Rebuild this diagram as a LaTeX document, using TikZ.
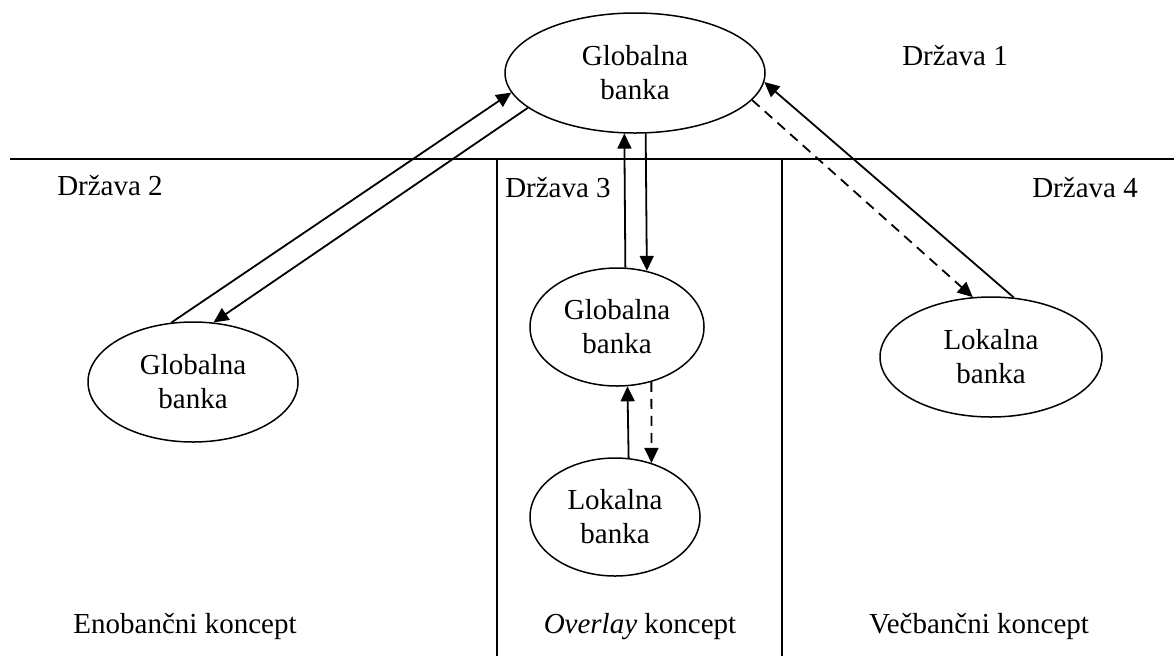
\documentclass[tikz,border=0pt]{standalone}
\usepackage{fontspec}
\setmainfont{Liberation Serif}
\usetikzlibrary{shapes.geometric,arrows.meta}
\begin{document}
\begin{tikzpicture}[x=1pt,y=-1pt,
  bank/.style={draw,ellipse,line width=1.5pt,inner sep=0pt,align=center,
    font=\fontsize{29}{34}\selectfont},
  lbl/.style={font=\fontsize{29}{34}\selectfont,inner sep=0pt,anchor=base},
  arr/.style={line width=1.8pt,-{Triangle[length=15pt,width=14pt]}},
  darr/.style={arr,dash pattern=on 10pt off 7pt},
  rule/.style={line width=1.5pt}]
\useasboundingbox (0,0) rectangle (1174,657);

% country borders
\coordinate (hl) at (10,159);
\coordinate (hr) at (1174,159);
\coordinate (v1t) at (497,159);
\coordinate (v1b) at (497,656);
\coordinate (v2t) at (782,159);
\coordinate (v2b) at (782,656);
\draw[rule] (hl) -- (hr);
\draw[rule] (v1t) -- (v1b);
\draw[rule] (v2t) -- (v2b);

% banks
\node[bank,minimum width=260pt,minimum height=120pt] (top) at (635,73) {Globalna\\banka};
\node[bank,minimum width=210pt,minimum height=120pt] (left) at (193,382) {Globalna\\banka};
\node[bank,minimum width=174pt,minimum height=118pt] (mid) at (617,327) {Globalna\\banka};
\node[bank,minimum width=170pt,minimum height=118pt] (low) at (615,517) {Lokalna\\banka};
\node[bank,minimum width=222pt,minimum height=120pt] (right) at (991,357) {Lokalna\\banka};

% country labels
\node[lbl] (d1) at (955,65) {Država 1};
\node[lbl] (d2) at (110,195) {Država 2};
\node[lbl] (d3) at (558,197) {Država 3};
\node[lbl] (d4) at (1085,197) {Država 4};

% concept labels
\node[lbl] (c1) at (185,633) {Enobančni koncept};
\node[lbl] (c2) at (640,633) {\textit{Overlay} koncept};
\node[lbl] (c3) at (979,633) {Večbančni koncept};

% single-bank concept
\draw[arr] (left.110.5) -- (top.189.6);
\draw[arr] (top.198.6) -- (left.71.7);

% overlay concept
\draw[arr] (mid.82.2) -- (top.260.5);
\draw[arr] (top.280.4) -- (mid.62.5);
\draw[arr] (low.77.4) -- (mid.280.6);
\draw[darr] (mid.302) -- (low.56);

% multi-bank concept
\draw[arr] (right.69.5) -- (top.356.7);
\draw[darr] (top.347.4) -- (right.107.8);
\end{tikzpicture}
\end{document}
